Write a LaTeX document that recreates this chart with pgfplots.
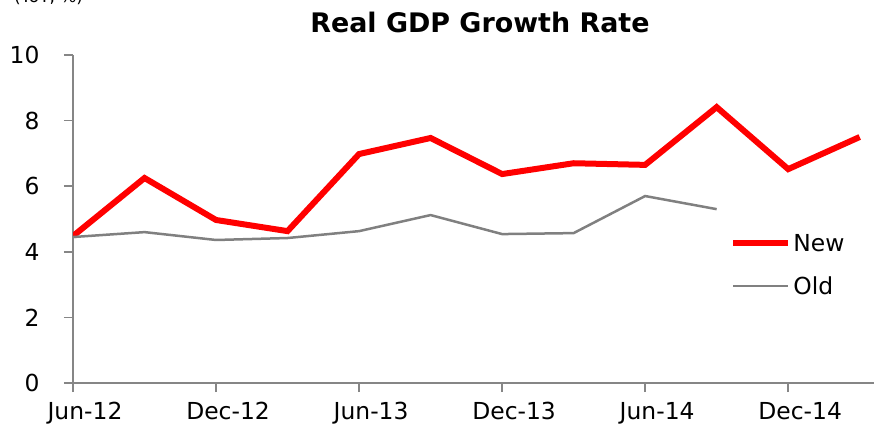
\documentclass[border=0pt]{standalone}
\usepackage{pgfplots}
\pgfplotsset{compat=1.18}
\usepackage{fontspec}
\setmainfont{DejaVu Sans}
\definecolor{axgray}{RGB}{134,134,134}
\definecolor{oldgray}{RGB}{128,128,128}
\begin{document}
\begin{tikzpicture}
\path[use as bounding box] (0bp,0bp) rectangle (874bp,430bp);
\node[anchor=base west, font=\fontsize{17}{20}\selectfont, inner sep=0pt] at (14bp,427bp) {(YoY, \%)};
\begin{axis}[
 at={(73bp,47bp)}, anchor=south west,
 scale only axis, width=801bp, height=328bp,
 xmin=0, xmax=11.2, ymin=0, ymax=10,
 axis x line=bottom, axis y line=left,
 axis line style={axgray, line width=2bp, -},
 xtick={0,2,4,6,8,10},
 xticklabels={Jun-12,Dec-12,Jun-13,Dec-13,Jun-14,Dec-14},
 ytick={0,2,...,10},
 tick align=outside, major tick length=9bp,
 tick style={axgray, line width=1.5bp},
 /pgf/number format/assume math mode=true,
 tick label style={font=\fontsize{23.5}{27}\selectfont, black},
 xticklabel style={xshift=12bp, yshift=-7bp},
 yticklabel style={xshift=-21bp},
 title={Real GDP Growth Rate},
 title style={at={(axis description cs:0.508,1)}, anchor=base, yshift=17bp, font=\bfseries\fontsize{27}{32}\selectfont},
 legend style={at={(axis cs:9.19,3.6)}, anchor=west, draw=none, fill=none, inner sep=0pt,
   font=\fontsize{23.5}{27}\selectfont, row sep=20bp},
 legend cell align=left,
 legend image code/.code={\draw[#1] (0bp,0bp) -- (55bp,0bp);},
]
\addplot[red, line width=6bp, line join=miter] coordinates {
 (0,4.48) (1,6.25) (2,4.97) (3,4.63) (4,6.98) (5,7.47) (6,6.37) (7,6.70) (8,6.65) (9,8.41) (10,6.52) (11,7.50)};
\addlegendentry{New}
\addplot[oldgray, line width=2.5bp] coordinates {
 (0,4.45) (1,4.60) (2,4.36) (3,4.42) (4,4.63) (5,5.12) (6,4.54) (7,4.57) (8,5.70) (9,5.30)};
\addlegendentry{Old}
\end{axis}
\end{tikzpicture}
\end{document}
